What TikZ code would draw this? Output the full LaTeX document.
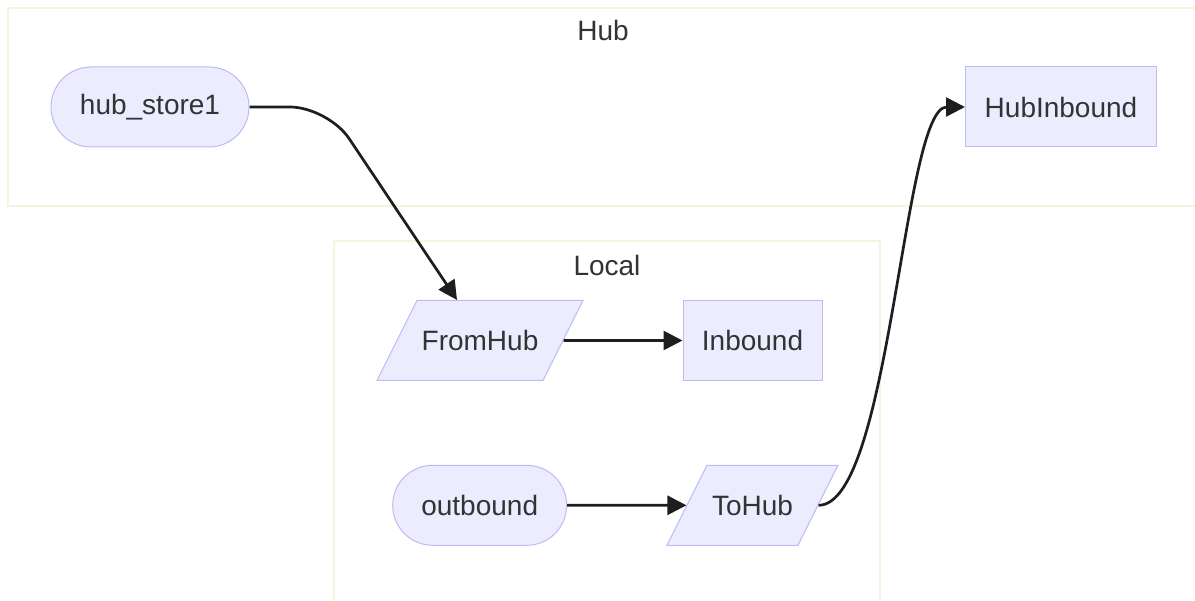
\documentclass[tikz,border=0pt]{standalone}
\usepackage{fontspec}
\setmainfont{Liberation Sans}
\usepackage{tikz}
\usetikzlibrary{shapes.geometric,arrows.meta,calc}
\definecolor{nodefill}{RGB}{236,236,255}
\definecolor{nodeline}{RGB}{196,184,240}
\definecolor{clusterline}{RGB}{242,246,222}
\definecolor{textgrey}{RGB}{51,51,51}
\definecolor{flowgrey}{RGB}{30,30,30}

\begin{document}
\begin{tikzpicture}[
        x=1pt, y=-1pt,
        cluster/.style={draw=clusterline, line width=1.5pt, fill=white},
        clabel/.style={font=\fontsize{28}{34}\selectfont, text=textgrey},
        base/.style={draw=nodeline, line width=1pt, fill=nodefill, text=textgrey,
            font=\fontsize{28}{34}\selectfont, inner sep=0pt, minimum height=80pt},
        stadium/.style={base, rectangle, rounded corners=40pt},
        box/.style={base, rectangle},
        datain/.style={base, trapezium, trapezium left angle=63.43, trapezium right angle=116.57,
            trapezium stretches body, text height=20pt, text depth=0pt, inner ysep=30pt},
        flow/.style={draw=flowgrey, line width=2.7pt, -{Triangle[length=19pt,width=19pt]}},
    ]
        \useasboundingbox (0,0) rectangle (1195,601);

        % subgraphs
        \draw[cluster] (8,8) rectangle (1200,206);
        \node[clabel] (hubtitle) at (603,30) {Hub};
        \draw[cluster] (334,241) rectangle (880,610);
        \node[clabel] (localtitle) at (607,265) {Local};

        % hub side
        \node[stadium, minimum width=198pt] (hubstore) at (150,107) {hub\_store1};
        \node[box, minimum width=191pt] (hubinbound) at (1061,107) {HubInbound};

        % local side
        \node[datain, minimum width=206pt] (fromhub) at (480,340.5) {FromHub};
        \node[box, minimum width=139pt] (inbound) at (752.5,340.5) {Inbound};
        \node[stadium, minimum width=174pt] (outbound) at (479.7,505.3) {outbound};
        \node[datain, minimum width=171pt] (tohub) at (752.5,505.3) {ToHub};
        \coordinate (fromhubin) at ($(fromhub.north)+(-23,0)$);
        \coordinate (hubbend) at (328,107);

        % connectors
        \draw[flow, rounded corners=38pt] (hubstore.east) -- (hubbend) -- (fromhubin);
        \draw[flow] (fromhub.east) -- (inbound.west);
        \draw[flow] (outbound.east) -- (tohub.west);
        \draw[flow] (tohub.east) .. controls +(72,0) and +(-62,0) .. (hubinbound.west);
    \end{tikzpicture}
\end{document}
